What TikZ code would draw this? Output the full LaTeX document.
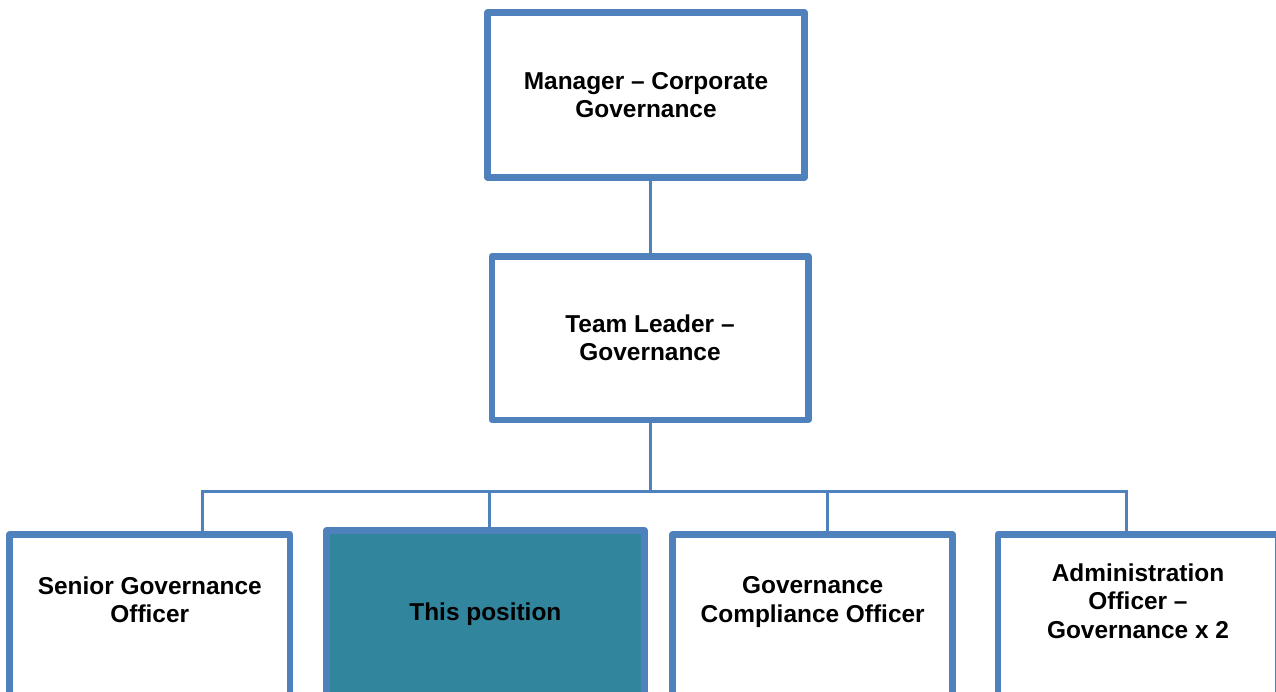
\documentclass[tikz,border=0pt]{standalone}
\usepackage{fontspec}
\setmainfont{Liberation Sans}

\definecolor{boxblue}{HTML}{4F81BD}
\definecolor{posteal}{HTML}{31859C}

\begin{document}
\begin{tikzpicture}[
    role/.style={draw=boxblue, line width=1.3mm, line join=round, fill=white, inner sep=0pt, outer sep=0pt},
    title/.style={font=\bfseries\fontsize{13.9}{16.1}\selectfont, align=center, inner sep=0pt},
    link/.style={draw=boxblue, line width=0.6mm}
]
    \useasboundingbox (0,0) rectangle (25.52,-13.82);
    \clip (0,0) rectangle (25.52,-13.82);

    % Top two levels
    \node[role, title, minimum width=6.34cm, minimum height=3.30cm] (mgr) at (12.92,-1.90) {Manager – Corporate\\Governance};
    \node[role, title, minimum width=6.33cm, minimum height=3.27cm] (lead) at (13.00,-6.76) {Team Leader –\\Governance};

    % Team members (boxes run off the bottom edge)
    \node[role, anchor=north, minimum width=5.61cm, minimum height=4cm] (sgo) at (2.995,-10.69) {};
    \node[role, anchor=north, fill=posteal, line width=1.4mm, minimum width=6.35cm, minimum height=4cm] (pos) at (9.707,-10.61) {};
    \node[role, anchor=north, minimum width=5.60cm, minimum height=4cm] (gco) at (16.254,-10.69) {};
    \node[role, anchor=north, minimum width=5.61cm, minimum height=4cm] (ado) at (22.76,-10.69) {};

    \node[title, anchor=north] (sgo-t) at ([yshift=-0.83cm]sgo.north) {Senior Governance\\Officer};
    \node[title, anchor=north] (pos-t) at ([yshift=-1.44cm]pos.north) {This position};
    \node[title, anchor=north] (gco-t) at ([yshift=-0.84cm]gco.north) {Governance\\Compliance Officer};
    \node[title, anchor=north] (ado-t) at ([yshift=-0.58cm]ado.north) {Administration\\Officer –\\Governance x 2};

    % Reporting lines
    \coordinate (b1) at (4.054,-9.82);
    \coordinate (b2) at (9.78,-9.82);
    \coordinate (b3) at (16.554,-9.82);
    \coordinate (b4) at (22.534,-9.82);

    \draw[link] (lead.north) -- (lead.north |- mgr.south);
    \draw[link] (lead.south) -- (lead.south |- b1);
    \draw[link] (b1 |- sgo.north) -- (b1) -- (b4) -- (b4 |- ado.north);
    \foreach \b/\r in {b2/pos, b3/gco}
        \draw[link] (\b) -- (\b |- \r.north);
\end{tikzpicture}
\end{document}
